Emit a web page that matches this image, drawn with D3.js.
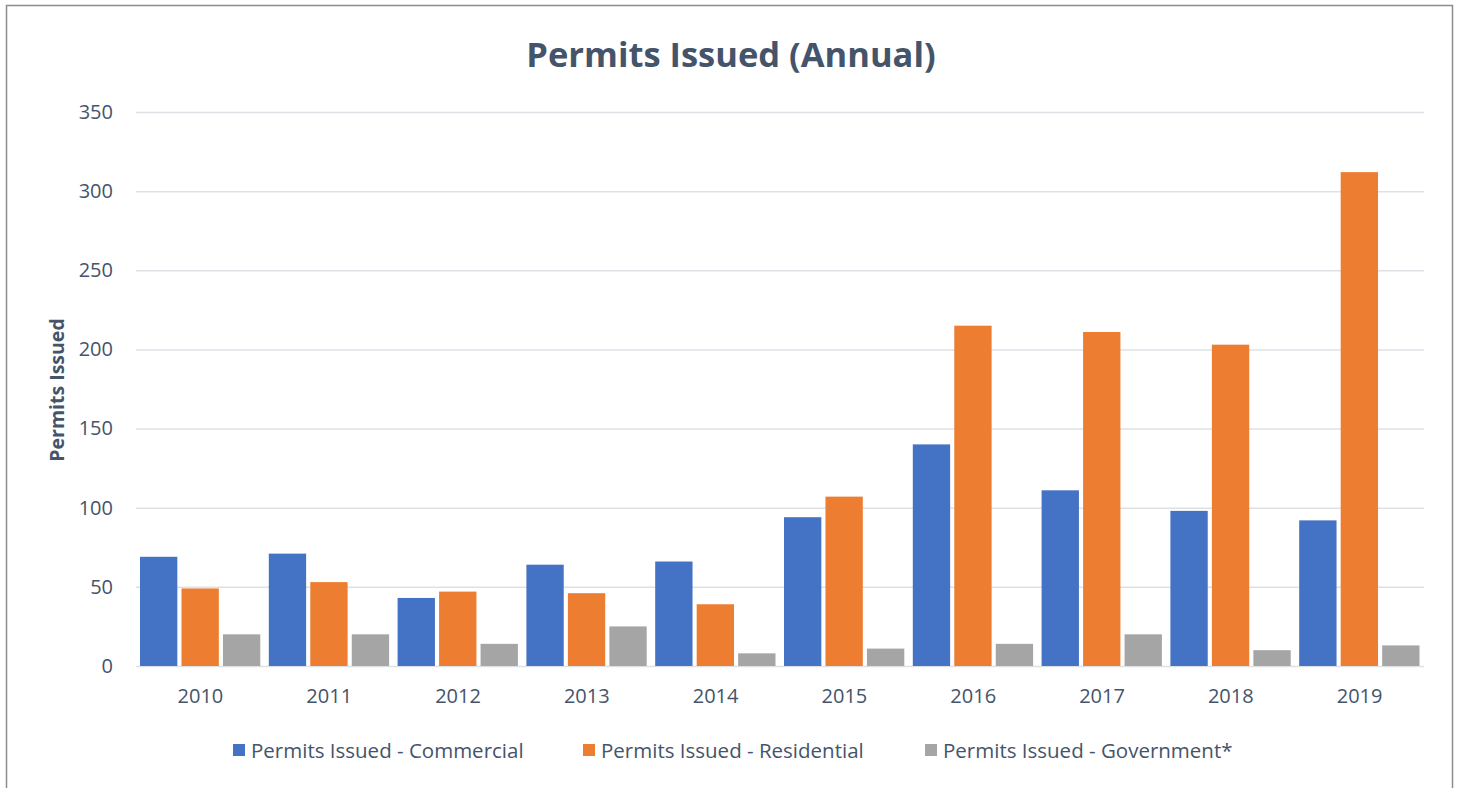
<!DOCTYPE html>
<html>
<head>
<meta charset="utf-8">
<script src="https://cdn.jsdelivr.net/npm/d3@7"></script>
<style>
  body { margin: 0; background: #fff; }
  text { font-family: "Open Sans", sans-serif; fill: #44546A; }
</style>
</head>
<body>
<div class="graph"></div>
<script>
const w = 1458;
const h = 788;
const margin = {top: 112, right: 34, bottom: 122, left: 136};

const years = ["2010", "2011", "2012", "2013", "2014", "2015", "2016", "2017", "2018", "2019"];
const seriesNames = ["Permits Issued - Commercial", "Permits Issued - Residential", "Permits Issued - Government*"];
const commercial = [69, 71, 43, 64, 66, 94, 140, 111, 98, 92];
const residential = [49, 53, 47, 46, 39, 107, 215, 211, 203, 312];
const government = [20, 20, 14, 25, 8, 11, 14, 20, 10, 13];
const yTicks = [0, 50, 100, 150, 200, 250, 300, 350];
const colors = ["#4472C4", "#ED7D31", "#A5A5A5"];

const series = [commercial, residential, government];

const canvas = d3.select(".graph")
  .append("svg")
  .attr("width", w)
  .attr("height", h);

// outer frame
canvas.append("rect")
  .attr("x", 6.5).attr("y", 5.5)
  .attr("width", 1446).attr("height", 820)
  .attr("fill", "#fff")
  .attr("stroke", "#8c8c8c")
  .attr("stroke-width", 1.5);

// title
canvas.append("text")
  .attr("x", 731).attr("y", 67)
  .attr("text-anchor", "middle")
  .attr("font-size", 34.5)
  .attr("font-weight", "bold")
  .text("Permits Issued (Annual)");

const yScale = d3.scaleLinear()
  .domain([0, 350])
  .range([h - margin.bottom, margin.top]);

const x0 = d3.scaleBand()
  .domain(years)
  .range([margin.left, w - margin.right])
  .padding(0);

const x1 = d3.scaleBand()
  .domain([0, 1, 2])
  .range([4, x0.bandwidth() - 4.5])
  .paddingInner(0.1);

// gridlines
canvas.append("g")
  .selectAll("line")
  .data(yTicks)
  .enter().append("line")
  .attr("x1", margin.left)
  .attr("x2", w - margin.right)
  .attr("y1", d => yScale(d) + 0.5)
  .attr("y2", d => yScale(d) + 0.5)
  .attr("stroke", "#DDE1E6")
  .attr("stroke-width", 1.5);

// y axis
const yAxis = d3.axisLeft(yScale)
  .tickValues(yTicks)
  .tickSize(0)
  .tickPadding(23);

const yg = canvas.append("g")
  .attr("id", "y-axis")
  .attr("transform", `translate(${margin.left}, 0)`)
  .call(yAxis);
yg.select(".domain").remove();
yg.selectAll("text")
  .attr("font-size", 20)
  .attr("font-family", "Open Sans, sans-serif")
  .attr("fill", "#44546A");

canvas.append("text")
  .attr("transform", "translate(64, 390) rotate(-90)")
  .attr("text-anchor", "middle")
  .attr("font-size", 19.5)
  .attr("font-weight", "bold")
  .text("Permits Issued");

// bars
const groups = canvas.append("g")
  .selectAll("g")
  .data(years)
  .enter().append("g")
  .attr("transform", d => `translate(${x0(d)}, 0)`);

groups.selectAll("rect")
  .data((d, i) => series.map((s, j) => ({k: j, v: s[i]})))
  .enter().append("rect")
  .attr("x", d => x1(d.k))
  .attr("width", x1.bandwidth())
  .attr("y", d => yScale(d.v))
  .attr("height", d => yScale(0) - yScale(d.v))
  .attr("fill", d => colors[d.k]);

// x axis
const xAxis = d3.axisBottom(x0).tickSize(0).tickPadding(23);
const xg = canvas.append("g")
  .attr("id", "x-axis")
  .attr("transform", `translate(0, ${h - margin.bottom})`)
  .call(xAxis);
xg.select(".domain").remove();
xg.selectAll("text")
  .attr("font-size", 20)
  .attr("font-family", "Open Sans, sans-serif")
  .attr("fill", "#44546A");

// legend
const legendX = [233, 583, 925];
const legend = canvas.append("g").attr("id", "legend");
const items = legend.selectAll("g")
  .data(seriesNames)
  .enter().append("g")
  .attr("transform", (d, i) => `translate(${legendX[i]}, 744)`);
items.append("rect")
  .attr("width", 12).attr("height", 12)
  .attr("fill", (d, i) => colors[i]);
items.append("text")
  .attr("x", 18).attr("y", 13.5)
  .attr("font-size", 20.5)
  .text(d => d);
</script>
</body>
</html>
